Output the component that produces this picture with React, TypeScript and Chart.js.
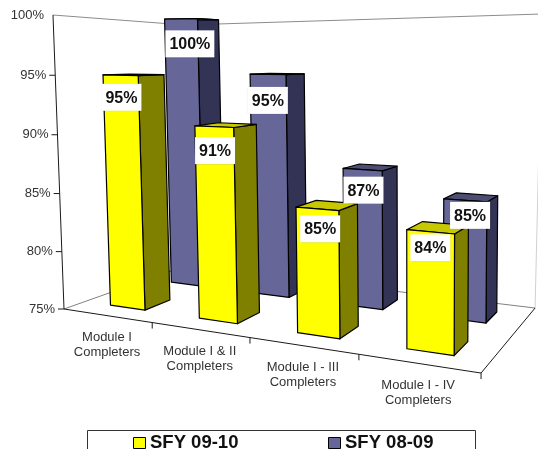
import React, { useEffect, useRef } from "react";
import { Chart, registerables } from "chart.js";

Chart.register(...registerables);

const categories = [
  ["Module I", "Completers"],
  ["Module I & II", "Completers"],
  ["Module I - III", "Completers"],
  ["Module I - IV", "Completers"],
];
const sfy0910 = [95, 91, 85, 84];
const sfy0809 = [100, 95, 87, 85];
const yTicks = { min: 75, max: 100, step: 5 };
const labelDrop = [
  [22, 24, 20, 16],
  [25, 26, 20.5, 15],
];
const labelShift = [
  [1, 1, 3, 0],
  [9, 0, 1, 5],
];

// Camera: maps (u along categories, v depth, h height), each 0..1, to the canvas.
const project = (u: number, v: number, h: number): [number, number] => {
  const w = -0.1953 * u + 0.2215 * v + 1 - 0.03 * h;
  return [
    (323.1 * u + 162 * v + 64 - 12.6 * h) / w,
    (-8.8 * u + 15.9 * v + 309 - (294.45 + 5 * v) * h) / w,
  ];
};

const FONT = '"Liberation Sans", Arial, sans-serif';
const faces = [
  { front: "#ffff00", side: "#808000", top: "#c8c800", v0: 0.15, v1: 0.35 },
  { front: "#666699", side: "#333355", top: "#4d4d73", v0: 0.65, v1: 0.85 },
];

const path = (ctx: CanvasRenderingContext2D, pts: [number, number][], fill?: string) => {
  ctx.beginPath();
  pts.forEach((p, i) => (i ? ctx.lineTo(p[0], p[1]) : ctx.moveTo(p[0], p[1])));
  if (fill) {
    ctx.closePath();
    ctx.fillStyle = fill;
    ctx.fill();
  }
  ctx.stroke();
};

const scene = {
  id: "scene3d",
  beforeDatasetsDraw(chart: any) {
    const { ctx, chartArea: a, scales } = chart;
    const toU = (px: number) => (px - a.left) / (a.right - a.left);
    const toH = (py: number) => (a.bottom - py) / (a.bottom - a.top);
    const yScale = scales.y;

    ctx.save();
    ctx.lineJoin = "round";

    // walls and floor
    ctx.lineWidth = 1;
    ctx.strokeStyle = "#8c8c8c";
    path(ctx, [project(0, 0, 1), [185, 25], [542, 14]]);
    ctx.strokeStyle = "#d0d0d0";
    path(ctx, [[542, 14], project(1, 1, 0)]);
    ctx.strokeStyle = "#808080";
    path(ctx, [project(0, 0, 0), project(0, 1, 0), project(1, 1, 0)]);
    ctx.strokeStyle = "#1a1a1a";
    path(ctx, [project(1, 0, 0), project(1, 1, 0)]);
    path(ctx, [project(0, 0, 1), project(0, 0, 0), project(1, 0, 0)]);

    // value axis
    ctx.fillStyle = "#333333";
    ctx.font = `13px ${FONT}`;
    ctx.textAlign = "right";
    ctx.textBaseline = "middle";
    yScale.ticks.forEach((t: any) => {
      const [x, y] = project(0, 0, toH(yScale.getPixelForValue(t.value)));
      if (t.value < yScale.max) path(ctx, [[x - 6, y], [x, y]]);
      ctx.fillStyle = "#333333";
      ctx.fillText(`${t.value}%`, x - 9, y);
    });

    // category axis
    ctx.textAlign = "center";
    const n = chart.data.labels.length;
    chart.data.labels.forEach((lines: string[], i: number) => {
      const u = toU(scales.x.getPixelForValue(i));
      const [x, y] = project(u, 0, 0);
      lines.forEach((s, k) => {
        ctx.fillStyle = "#333333";
        ctx.fillText(s, x, y + 22 + k * 15);
      });
      const [tx, ty] = project((i + 1) / n, 0, 0);
      path(ctx, [[tx, ty], [tx, ty + 6]]);
    });

    // bars, the back series first
    const labels: any[] = [];
    [1, 0].forEach((ds) => {
      const meta = chart.getDatasetMeta(ds);
      const f = faces[ds];
      meta.data.forEach((bar: any, i: number) => {
        const half = bar.width / (a.right - a.left) / 2;
        const um = toU(bar.x);
        const u0 = um - half;
        const u1 = um + half;
        const h = toH(bar.y);
        ctx.strokeStyle = "#000000";
        ctx.lineWidth = 1.2;
        path(ctx, [project(u1, f.v0, 0), project(u1, f.v1, 0), project(u1, f.v1, h), project(u1, f.v0, h)], f.side);
        path(ctx, [project(u0, f.v0, h), project(u1, f.v0, h), project(u1, f.v1, h), project(u0, f.v1, h)], f.top);
        path(ctx, [project(u0, f.v0, 0), project(u1, f.v0, 0), project(u1, f.v0, h), project(u0, f.v0, h)], f.front);
        const [lx, ly] = project(um, f.v0, h);
        labels.push({ x: lx + labelShift[ds][i], y: ly + labelDrop[ds][i], text: `${chart.data.datasets[ds].data[i]}%` });
      });
    });

    // value labels
    ctx.font = `bold 16px ${FONT}`;
    ctx.textAlign = "center";
    labels.forEach((l) => {
      const w = ctx.measureText(l.text).width + 8;
      ctx.save();
      ctx.shadowColor = "rgba(0,0,0,0.3)";
      ctx.shadowBlur = 1.5;
      ctx.shadowOffsetX = 0.5;
      ctx.shadowOffsetY = 0.5;
      ctx.fillStyle = "#ffffff";
      ctx.fillRect(l.x - w / 2, l.y - 13.5, w, 27);
      ctx.restore();
      ctx.fillStyle = "#111111";
      ctx.fillText(l.text, l.x, l.y + 1);
    });

    // legend
    ctx.strokeStyle = "#333333";
    ctx.lineWidth = 1;
    ctx.strokeRect(87.5, 430.5, 388, 30);
    ctx.font = `bold 18.5px ${FONT}`;
    ctx.textAlign = "left";
    [133, 328].forEach((x, ds) => {
      ctx.fillStyle = chart.data.datasets[ds].backgroundColor;
      ctx.fillRect(x + 0.5, 437.5, 12, 11);
      ctx.strokeStyle = "#000000";
      ctx.strokeRect(x + 0.5, 437.5, 12, 11);
      ctx.fillStyle = "#111111";
      ctx.fillText(chart.data.datasets[ds].label, x + 17, 443);
    });

    ctx.restore();
    return false;
  },
};

export default function App() {
  const ref = useRef<HTMLCanvasElement>(null);
  useEffect(() => {
    const chart = new Chart(ref.current as HTMLCanvasElement, {
      type: "bar",
      data: {
        labels: categories as any,
        datasets: [
          { label: "SFY 09-10", data: sfy0910, backgroundColor: "#ffff00", grouped: false, barPercentage: 0.4, categoryPercentage: 1 },
          { label: "SFY 08-09", data: sfy0809, backgroundColor: "#666699", grouped: false, barPercentage: 0.4, categoryPercentage: 1 },
        ],
      },
      options: {
        responsive: false,
        animation: false,
        layout: { padding: 0 },
        plugins: { legend: { display: false }, tooltip: { enabled: false } },
        scales: {
          x: { display: false },
          y: { display: false, min: yTicks.min, max: yTicks.max, ticks: { stepSize: yTicks.step } },
        },
      },
      plugins: [scene],
    } as any);
    return () => chart.destroy();
  }, []);
  return (
    <div style={{ position: "absolute", left: 0, top: 0, width: 538, height: 449, overflow: "hidden", background: "#fff" }}>
      <canvas ref={ref} width={538} height={449} style={{ display: "block" }} />
    </div>
  );
}
